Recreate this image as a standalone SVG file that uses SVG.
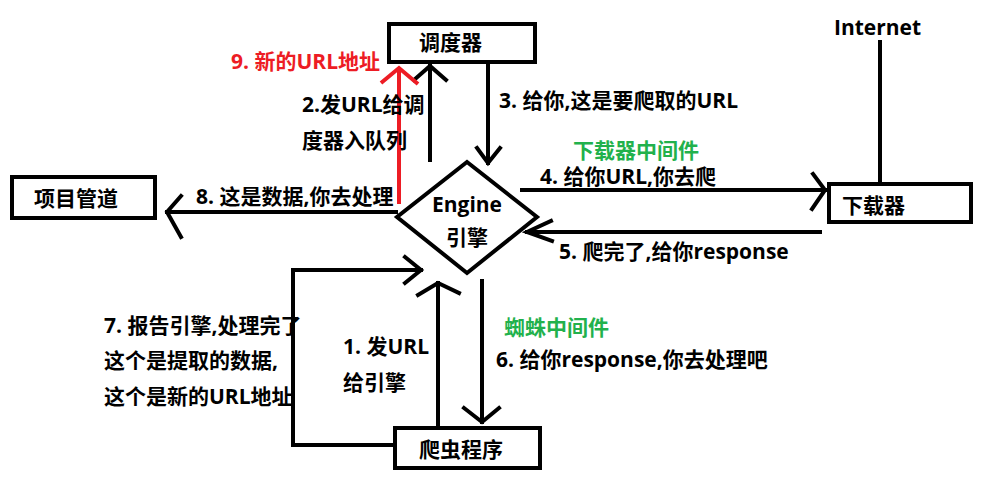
<svg xmlns="http://www.w3.org/2000/svg" width="981" height="482" viewBox="0 0 981 482">
  <style>
    text { font-family: "Open Sans", "Noto Sans CJK SC", sans-serif; font-weight: bold; font-size: 21px; fill: #000; }
    .red { fill: #ed1c24; }
    .green { fill: #22b14c; }
    .box { fill: #fff; stroke: #000; stroke-width: 4; }
    .ln { fill: none; stroke: #000; stroke-width: 4; stroke-linecap: square; stroke-linejoin: miter; }
    .rl { fill: none; stroke: #ed1c24; stroke-width: 4; }
  </style>
  <rect width="981" height="482" fill="#fff"/>

  <!-- connectors -->
  <g id="connectors">
    <!-- Internet link -->
    <line class="ln" x1="880" y1="42" x2="880" y2="182"/>
    <!-- 2: engine -> scheduler -->
    <polyline class="ln" points="430,160 430,66"/>
    <polyline class="ln" points="414,80 430,66 446,80"/>
    <!-- 3: scheduler -> engine -->
    <polyline class="ln" points="488,66 488,163"/>
    <polyline class="ln" points="477,148 488,163 500,148"/>
    <!-- 9: new URL (red) -->
    <line class="rl" x1="399" y1="204" x2="399" y2="68"/>
    <polyline class="rl" points="381,83 399,68 418,84"/>
    <!-- 4: engine -> downloader -->
    <line class="ln" x1="522" y1="190" x2="825" y2="190"/>
    <polyline class="ln" points="813,174 825,190 812,209"/>
    <!-- 5: downloader -> engine -->
    <line class="ln" x1="820" y1="232" x2="527" y2="232"/>
    <polyline class="ln" points="551,221 527,232 552,241"/>
    <!-- 8: engine -> pipeline -->
    <line class="ln" x1="396" y1="212" x2="167" y2="212"/>
    <polyline class="ln" points="181,196 167,212 181,237"/>
    <!-- 7: spider -> engine (loop) -->
    <polyline class="ln" points="392,445 293,445 293,270 421,270"/>
    <polyline class="ln" points="405,257 421,270 405,283"/>
    <!-- 1: spider -> engine -->
    <line class="ln" x1="438" y1="424" x2="438" y2="283"/>
    <polyline class="ln" points="418,295 438,283 459,293"/>
    <!-- 6: engine -> spider -->
    <line class="ln" x1="482" y1="281" x2="482" y2="422"/>
    <polyline class="ln" points="464,408 482,422 499,408"/>
  </g>

  <!-- nodes -->
  <g id="scheduler">
    <rect class="box" x="389" y="24" width="146" height="38"/>
    <text x="419" y="50">调度器</text>
  </g>
  <g id="engine">
    <polygon class="box" points="467,162 537,217 467,273 397,217"/>
    <text x="467" y="212" text-anchor="middle">Engine</text>
    <text x="467" y="245" text-anchor="middle">引擎</text>
  </g>
  <g id="downloader">
    <rect class="box" x="829" y="184" width="142" height="38"/>
    <text x="842" y="213">下载器</text>
  </g>
  <g id="pipeline">
    <rect class="box" x="12" y="177" width="143" height="41"/>
    <text x="34" y="206">项目管道</text>
  </g>
  <g id="spider">
    <rect class="box" x="395" y="428" width="145" height="40"/>
    <text x="419" y="457">爬虫程序</text>
  </g>
  <g id="internet">
    <text x="834" y="35">Internet</text>
  </g>

  <!-- connector labels -->
  <g id="labels">
    <text class="red" x="231" y="69">9. 新的URL地址</text>
    <text x="302" y="112">2.发URL给调</text>
    <text x="302" y="148">度器入队列</text>
    <text x="499" y="108">3. 给你,这是要爬取的URL</text>
    <text class="green" x="573" y="158">下载器中间件</text>
    <text x="540" y="184">4. 给你URL,你去爬</text>
    <text x="196" y="204">8. 这是数据,你去处理</text>
    <text x="559" y="259">5. 爬完了,给你response</text>
    <text x="104" y="333">7. 报告引擎,处理完了</text>
    <text x="104" y="368">这个是提取的数据,</text>
    <text x="104" y="404">这个是新的URL地址</text>
    <text x="343" y="354">1. 发URL</text>
    <text x="343" y="390">给引擎</text>
    <text class="green" x="504" y="335">蜘蛛中间件</text>
    <text x="496" y="367">6. 给你response,你去处理吧</text>
  </g>
</svg>
